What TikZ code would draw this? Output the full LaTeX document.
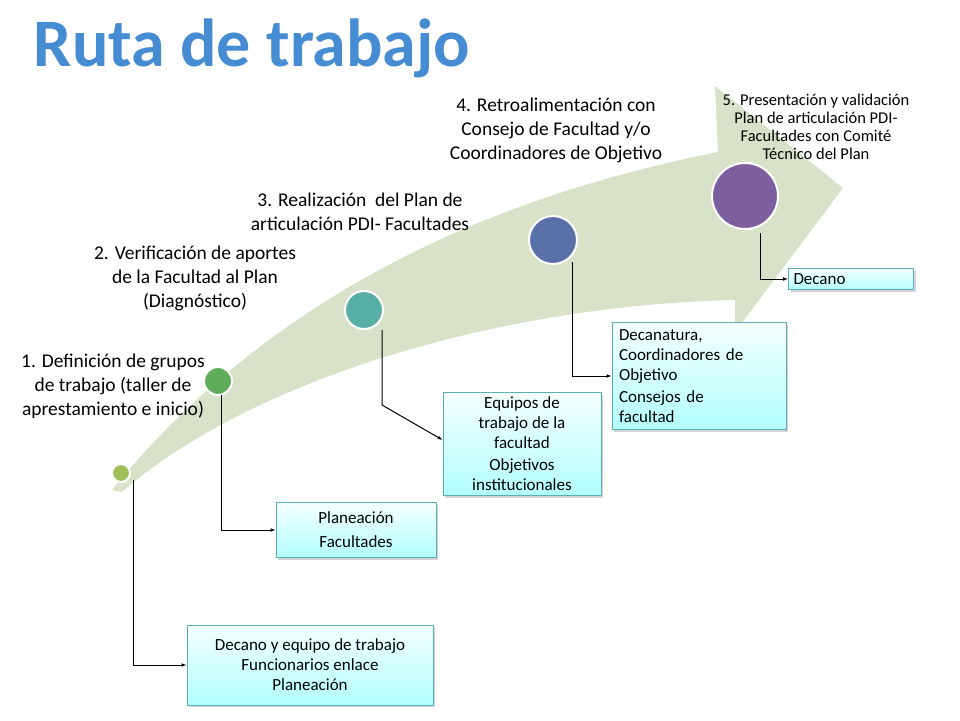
\documentclass[tikz,border=0pt]{standalone}
\usepackage{fontspec}
\setmainfont{Carlito}
\usetikzlibrary{shadows,arrows.meta}
\definecolor{arrowg}{RGB}{215,226,200}
\definecolor{bordc}{RGB}{90,175,185}
\definecolor{ttl}{RGB}{70,140,210}
\definecolor{k1}{RGB}{160,190,90}
\definecolor{k2}{RGB}{95,172,90}
\definecolor{k3}{RGB}{90,175,165}
\definecolor{k4}{RGB}{90,112,168}
\definecolor{k5}{RGB}{125,95,160}
\tikzset{
 box/.style={draw=bordc,line width=0.8pt,top color=cyan!4,bottom color=cyan!30,drop shadow={opacity=0.35,shadow xshift=2pt,shadow yshift=-2pt},align=center,font=\fontsize{17}{20}\selectfont,inner sep=3pt},
 lbl/.style={align=center,font=\fontsize{19.5}{24}\selectfont},
 dot/.style={circle,draw=white,line width=2pt},
 conn/.style={line width=1pt,-{Latex[length=5pt]}}
}
\begin{document}
\begin{tikzpicture}[x=1pt,y=-1pt]
\useasboundingbox (0,0) rectangle (960,720);
\fill[arrowg] (112,490) .. controls (250,320) and (450,205) .. (718,152) -- (715,86) -- (843,188) -- (735,332) -- (735,300) .. controls (500,305) and (250,380) .. (122,492) -- cycle;
\node[font=\fontsize{68}{68}\selectfont\bfseries,text=ttl] (title) at (252,48) {Ruta de trabajo};
\node[dot,fill=k1,minimum size=18pt] (c1) at (121,473) {};
\node[dot,fill=k2,minimum size=28pt] (c2) at (218,381) {};
\node[dot,fill=k3,minimum size=38pt] (c3) at (364,310) {};
\node[dot,fill=k4,minimum size=48pt] (c4) at (553,240) {};
\node[dot,fill=k5,minimum size=66pt] (c5) at (745,196) {};
\node[lbl] (l1) at (113,386) {1. Definición de grupos\\de trabajo (taller de\\aprestamiento e inicio)};
\node[lbl] (l2) at (195,278) {2. Verificación de aportes\\de la Facultad al Plan\\(Diagnóstico)};
\node[lbl] (l3) at (360,212) {3. Realización\ \ del Plan de\\articulación PDI- Facultades};
\node[lbl] (l4) at (556,130) {4. Retroalimentación con\\Consejo de Facultad y/o\\Coordinadores de Objetivo};
\node[lbl,font=\fontsize{16.5}{18}\selectfont] (l5) at (816,127) {5. Presentación y validación\\Plan de articulación PDI-\\Facultades con Comité\\Técnico del Plan};
\node[box,minimum width=246pt,minimum height=80pt] (b1) at (310,665) {Decano y equipo de trabajo\\Funcionarios enlace\\Planeación};
\node[box,minimum width=160pt,minimum height=55pt] (b2) at (356,530) {Planeación\\[4pt]Facultades};
\node[box,minimum width=158pt,minimum height=103pt] (b3) at (522,444) {Equipos de\\trabajo de la\\facultad\\[2pt]Objetivos\\institucionales};
\node[box,minimum width=174pt,minimum height=107pt,align=left,text width=160pt] (b4) at (699,376) {Decanatura,\\Coordinadores de\\Objetivo\\[2pt]Consejos de\\facultad};
\node[box,minimum width=125pt,minimum height=21pt,text width=115pt,align=left,inner sep=1pt] (b5) at (851,279) {Decano};
\draw[conn] (133,480) |- (b1.west);
\draw[conn] (221,395) |- (b2.west);
\draw[conn] (382,330) -- (382,405) -- (b3.west|-440,440);
\draw[conn] (572,262) |- (b4.west);
\draw[conn] (760,233) |- (b5.west);
\end{tikzpicture}
\end{document}
